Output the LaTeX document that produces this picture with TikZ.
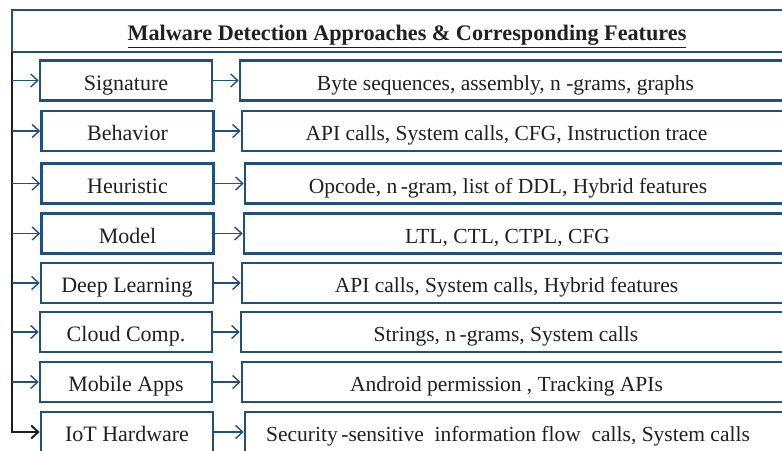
\documentclass[tikz,border=0pt]{standalone}
\usepackage{fontspec}
\setmainfont{Liberation Serif}
\usetikzlibrary{arrows.meta,positioning,calc}
\definecolor{mdblue}{RGB}{33,79,128}
\definecolor{mdink}{RGB}{35,31,32}

\begin{document}
\begin{tikzpicture}[
  x=1pt, y=-1pt,
  font=\fontsize{22}{26}\selectfont, text=mdink,
  approach/.style={draw=mdblue, line width=2.6pt, fill=white, align=center,
    minimum width=172pt, minimum height=40pt, inner sep=0pt,
    text height=21pt, text depth=2pt},
  % feature boxes run off to the right, so pull their labels back a little
  feature/.style={draw=mdblue, line width=2.6pt, fill=white,
    minimum height=40pt, inner sep=0pt, text height=21pt, text depth=2pt,
    font=\fontsize{21.5}{26}\selectfont, execute at begin node={\kern-14pt}},
  hdr/.style={draw=mdblue, line width=2.6pt, align=center, minimum width=790pt,
    minimum height=42pt, inner sep=0pt, text height=21pt, text depth=1.5pt,
    font=\fontsize{22.2}{26}\selectfont\bfseries},
  arr/.style={-{Straight Barb[length=7pt,width=13pt]}, mdblue, line width=1.4pt},
  trunk/.style={-{Straight Barb[length=7pt,width=13pt]}, mdink, line width=2pt}
]
\useasboundingbox (0,0) rectangle (782,450);
\clip (0,0) rectangle (782,450);

\node[hdr] (head) at (407,31) {\underline{Malware Detection Approaches \& Corresponding Features}};

% approaches
\node[approach] (sig) at (126,80.5) {Signature};
\node[approach] (beh) at (127.5,131) {Behavior};
\node[approach] (heu) at (127.5,183.5) {Heuristic};
\node[approach] (mod) at (127.5,233.5) {Model};
\node[approach] (dl)  at (127,283) {Deep Learning};
\node[approach] (cc)  at (126,332) {Cloud Comp.};
\node[approach] (mob) at (126,382) {Mobile Apps};
\node[approach] (iot) at (127,432) {IoT Hardware};

% features
\node[feature, minimum width=545pt] (fsig) at (512.5,80.5) {Byte sequences, assembly, n -grams, graphs};
\node[feature, minimum width=543pt] (fbeh) at (513.5,131) {API calls, System calls, CFG, Instruction trace};
\node[feature, minimum width=540pt] (fheu) at (515,183.5) {Opcode, n\,-gram, list of DDL, Hybrid features};
\node[feature, minimum width=541pt] (fmod) at (514.5,233.5) {LTL, CTL, CTPL, CFG};
\node[feature, minimum width=543pt] (fdl)  at (513.5,283) {API calls, System calls, Hybrid features};
\node[feature, minimum width=544pt] (fcc)  at (513,332) {Strings, n\,-grams, System calls};
\node[feature, minimum width=543pt] (fmob) at (513.5,382) {Android permission , Tracking APIs};
\node[feature, minimum width=540pt] (fiot) at (515,432) {Security\,-sensitive\ \ information flow\ \ calls, System calls};

% trunk down the left side
\coordinate (stem) at (12.3,52);
\draw[trunk] (stem) |- (iot.west);

\foreach \a in {sig,beh,heu,mod,dl,cc,mob}
  \draw[arr] (stem |- \a.west) -- (\a.west);

\draw[arr] (sig) -- (fsig);
\draw[arr] (beh) -- (fbeh);
\draw[arr] (heu) -- (fheu);
\draw[arr] (mod) -- (fmod);
\draw[arr] (dl) -- (fdl);
\draw[arr] (cc) -- (fcc);
\draw[arr] (mob) -- (fmob);
\draw[arr] (iot) -- (fiot);
\end{tikzpicture}
\end{document}
